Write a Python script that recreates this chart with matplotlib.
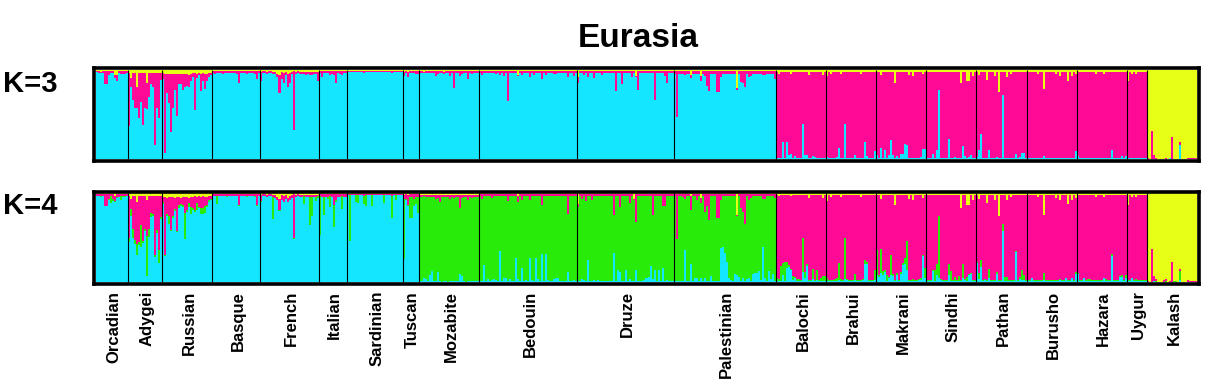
import matplotlib
matplotlib.use("Agg")
import matplotlib.pyplot as plt
import numpy as np
from matplotlib.transforms import blended_transform_factory

plt.rcParams['font.family'] = ['Liberation Sans', 'DejaVu Sans']

# populations, in plot order
pops = ['Orcadian', 'Adygei', 'Russian', 'Basque', 'French', 'Italian', 'Sardinian', 'Tuscan',
        'Mozabite', 'Bedouin', 'Druze', 'Palestinian', 'Balochi', 'Brahui', 'Makrani', 'Sindhi',
        'Pathan', 'Burusho', 'Hazara', 'Uygur', 'Kalash']

# colours of the clusters
cyan = '#14E6FF'
pink = '#FF0A96'
yellow = '#E6FF14'
green = '#28EB0A'

# membership in percent, one inner list per population (None = main cluster of that population,
# it gets whatever is left to 100)

# ---------- K=3 ----------
k3_cyan = [None, None, None, None, None, None, None, None, None, None, None, None,
           [1, 1, 1, 20, 1, 20, 5, 6, 1, 4, 1, 1, 1, 40, 5, 5, 1, 1, 4, 3, 1, 1, 1, 2, 2],
           [3, 1, 1, 1, 1, 3, 13, 2, 1, 40, 2, 1, 1, 1, 5, 1, 1, 1, 1, 19, 4, 1, 1, 1, 9],
           [5, 2, 13, 1, 10, 2, 5, 22, 5, 1, 4, 1, 6, 6, 17, 16, 2, 1, 1, 1, 1, 1, 3, 12, 12],
           [1, 1, 1, 6, 1, 10, 78, 1, 2, 1, 1, 23, 2, 1, 3, 1, 1, 1, 15, 4, 1, 3, 5, 1, 1],
           [3, 10, 28, 1, 2, 1, 11, 1, 1, 1, 3, 1, 1, 72, 2, 1, 1, 1, 1, 6, 1, 3, 7, 7, 1],
           [1, 1, 2, 1, 1, 1, 1, 1, 4, 1, 1, 1, 1, 1, 1, 1, 1, 1, 1, 2, 1, 1, 1, 1, 9],
           [4, 1, 1, 1, 2, 1, 1, 1, 1, 1, 1, 1, 1, 1, 1, 1, 1, 10, 1, 1, 1, 1, 4, 1, 4],
           [1, 1, 1, 1, 1, 1, 1, 1, 1, 1],
           [0, 0, 0, 0, 0, 0, 0, 0, 0, 0, 0, 1, 0, 0, 0, 0, 16, 0, 0, 0, 0, 0, 0, 0, 0]]

k3_pink = [[1, 2, 1, 2, 15, 15, 5, 2, 2, 3, 6, 2, 3, 3, 3, 2],
           [60, 10, 31, 40, 24, 51, 33, 58, 40, 29, 27, 13, 16, 81, 40, 51, 8],
           [7, 89, 21, 33, 65, 39, 17, 48, 12, 11, 18, 15, 14, 13, 8, 5, 42, 5, 3, 19, 9, 17, 8, 5, 3],
           [2, 3, 2, 2, 2, 3, 2, 2, 2, 2, 2, 2, 3, 14, 2, 2, 2, 3, 2, 2, 2, 3, 9, 2],
           [10, 2, 2, 2, 2, 2, 2, 3, 4, 20, 8, 11, 4, 14, 12, 3, 66, 3, 2, 2, 3, 2, 4, 2, 4, 4, 2, 3, 10],
           [2, 7, 2, 2, 2, 5, 3, 5, 13, 2, 3, 5, 2, 2],
           [1, 1, 1, 1, 1, 1, 1, 1, 2, 1, 1, 1, 1, 1, 1, 1, 1, 1, 1, 1, 1, 1, 2, 1, 1, 1, 1, 1],
           [5, 2, 6, 2, 2, 2, 4, 4],
           [2, 2, 1, 2, 2, 2, 2, 2, 6, 4, 2, 2, 2, 2, 2, 6, 2, 19, 2, 2, 6, 4, 2, 2, 9, 2, 4, 2, 2, 2],
           [2, 5, 2, 2, 2, 2, 2, 2, 4, 2, 5, 2, 6, 2, 34, 2, 2, 2, 2, 1, 2, 5, 2, 2, 2, 7, 2, 5, 2, 2,
            2, 9, 2, 5, 2, 2, 2, 4, 4, 2, 2, 2, 2, 2, 7, 2, 2, 6, 2],
           [6, 2, 2, 5, 2, 7, 2, 2, 8, 2, 2, 2, 5, 2, 2, 2, 2, 2, 2, 22, 2, 2, 15, 2, 2, 2, 2, 7, 2, 1,
            21, 2, 2, 2, 2, 2, 2, 2, 32, 2, 2, 2, 2, 6, 13, 2, 2, 2],
           [3, 52, 3, 3, 3, 5, 3, 3, 3, 3, 3, 4, 3, 5, 3, 6, 17, 23, 3, 3, 3, 24, 24, 7, 3, 3, 3, 3, 3, 3,
            3, 2, 3, 12, 13, 18, 3, 7, 6, 3, 3, 3, 3, 3, 5, 5, 3, 3, 3, 3, 9],
           None, None, None, None, None, None, None, None,
           [1, 0, 32, 5, 2, 0, 0, 0, 0, 2, 0, 1, 25, 0, 0, 0, 3, 0, 0, 0, 1, 1, 1, 1, 1]]

k3_yellow = [[1, 1, 2, 1, 1, 1, 1, 1, 1, 6, 6, 1, 1, 1, 1, 1],
             [3, 9, 3, 3, 19, 3, 3, 3, 3, 15, 3, 3, 3, 3, 3, 3, 3],
             [3, 4, 5, 4, 4, 4, 5, 4, 4, 5, 4, 4, 4, 6, 4, 3, 3, 4, 3, 4, 3, 4, 4, 3, 3],
             [1, 1, 1, 1, 1, 1, 1, 1, 1, 1, 1, 1, 1, 1, 1, 1, 1, 1, 1, 1, 1, 1, 1, 1],
             [2, 1, 1, 2, 1, 1, 2, 2, 4, 6, 2, 3, 2, 5, 3, 2, 1, 2, 1, 2, 2, 2, 2, 2, 2, 2, 2, 2, 2],
             [1, 1, 1, 1, 1, 1, 1, 1, 1, 1, 1, 1, 1, 1],
             [1, 1, 1, 1, 1, 1, 1, 1, 1, 1, 1, 1, 1, 1, 1, 1, 1, 1, 1, 1, 1, 1, 1, 1, 1, 1, 1, 1],
             [2, 1, 2, 1, 1, 1, 1, 1],
             [1, 1, 2, 1, 1, 1, 1, 1, 1, 1, 1, 1, 2, 1, 1, 1, 1, 1, 1, 1, 1, 1, 1, 1, 1, 1, 1, 1, 1, 1],
             [1, 1, 1, 1, 1, 1, 1, 1, 1, 1, 1, 1, 1, 1, 1, 1, 1, 1, 1, 6, 1, 1, 1, 1, 1, 1, 1, 1, 1, 1,
              1, 1, 1, 1, 1, 1, 1, 1, 1, 1, 1, 1, 1, 1, 1, 1, 1, 1, 1],
             [8, 1, 1, 1, 1, 1, 1, 1, 1, 1, 1, 1, 1, 1, 1, 1, 1, 1, 1, 1, 1, 1, 1, 1, 1, 1, 1, 1, 1, 7,
              1, 1, 1, 1, 1, 1, 1, 1, 1, 1, 1, 1, 1, 1, 1, 1, 1, 1],
             [1, 1, 1, 1, 1, 1, 1, 1, 6, 1, 1, 1, 1, 7, 1, 1, 1, 1, 1, 1, 1, 1, 1, 1, 1, 1, 1, 1, 1, 1,
              1, 20, 1, 1, 1, 1, 1, 1, 1, 1, 1, 1, 1, 1, 1, 1, 1, 1, 1, 1, 1],
             [2, 5, 2, 2, 2, 2, 2, 5, 2, 2, 2, 2, 2, 2, 2, 2, 6, 2, 2, 2, 2, 2, 2, 6, 2],
             [7, 2, 4, 2, 2, 2, 2, 4, 2, 2, 2, 2, 2, 2, 2, 2, 2, 4, 2, 2, 2, 2, 2, 2, 2],
             [2, 2, 6, 2, 2, 2, 2, 2, 2, 14, 2, 2, 2, 2, 2, 2, 6, 2, 7, 2, 2, 2, 2, 5, 2],
             [2, 2, 2, 2, 2, 2, 2, 2, 2, 2, 2, 2, 2, 2, 2, 2, 2, 15, 2, 2, 12, 12, 2, 7, 2],
             [2, 6, 2, 2, 2, 11, 2, 2, 2, 7, 2, 25, 2, 2, 2, 8, 2, 4, 2, 2, 2, 2, 2, 2, 2],
             [2, 2, 2, 2, 2, 4, 2, 2, 21, 2, 2, 2, 2, 2, 5, 2, 7, 2, 2, 2, 12, 2, 7, 2, 5],
             [2, 2, 2, 2, 2, 2, 2, 2, 2, 4, 2, 2, 2, 4, 2, 2, 2, 2, 2, 2, 2, 2, 2, 2, 2],
             [12, 2, 4, 2, 4, 2, 2, 2, 2, 2],
             None]

# ---------- K=4 ----------
k4_cyan = [None, None, None, None, None, None, None, None,
           [1, 1, 5, 3, 1, 8, 12, 1, 1, 11, 1, 0, 1, 1, 0, 1, 1, 1, 1, 1, 9, 7, 1, 0, 1, 1, 1, 1, 1, 1],
           [1, 1, 19, 1, 3, 1, 2, 3, 2, 1, 35, 1, 4, 5, 1, 3, 1, 1, 27, 3, 1, 16, 1, 2, 1, 27, 2, 1, 27, 3,
            1, 32, 1, 32, 2, 1, 1, 3, 5, 4, 1, 1, 1, 1, 11, 1, 1, 2, 1],
           [1, 1, 3, 2, 1, 25, 1, 1, 2, 1, 2, 1, 1, 1, 1, 1, 1, 1, 33, 1, 13, 11, 1, 1, 14, 1, 3, 1, 1, 14,
            1, 1, 1, 2, 4, 6, 18, 3, 13, 1, 13, 1, 16, 1, 2, 1, 1, 1],
           [1, 1, 1, 1, 1, 36, 1, 1, 20, 1, 5, 5, 1, 5, 1, 5, 1, 1, 7, 1, 1, 1, 1, 38, 40, 33, 23, 5, 2, 1,
            9, 8, 6, 1, 5, 1, 3, 5, 1, 9, 10, 10, 12, 2, 39, 5, 1, 12, 3, 9, 1],
           [1, 1, 1, 8, 1, 16, 17, 13, 2, 5, 1, 1, 1, 11, 5, 18, 1, 1, 3, 1, 2, 1, 1, 1, 1],
           [1, 1, 1, 1, 1, 1, 2, 1, 1, 3, 2, 1, 1, 1, 2, 1, 1, 1, 2, 20, 20, 1, 1, 1, 2],
           [8, 6, 10, 8, 11, 1, 4, 8, 7, 1, 8, 1, 9, 19, 20, 13, 1, 1, 1, 1, 1, 2, 2, 29, 4],
           [1, 1, 1, 12, 1, 8, 4, 2, 1, 1, 1, 8, 1, 1, 1, 1, 1, 1, 4, 2, 1, 8, 9, 1, 1],
           [22, 3, 17, 1, 2, 1, 5, 1, 1, 1, 9, 1, 1, 58, 1, 1, 1, 1, 1, 34, 1, 3, 2, 2, 1],
           [1, 1, 4, 1, 1, 1, 1, 1, 2, 1, 1, 1, 1, 1, 1, 1, 2, 1, 1, 4, 1, 1, 4, 1, 9],
           [9, 1, 1, 4, 1, 1, 1, 1, 1, 1, 1, 1, 1, 4, 1, 1, 1, 29, 1, 1, 1, 6, 6, 1, 4],
           [1, 1, 4, 1, 1, 1, 1, 1, 1, 1],
           [0, 0, 0, 1, 0, 0, 0, 0, 0, 0, 0, 0, 0, 0, 0, 0, 2, 0, 0, 0, 0, 0, 0, 0, 0]]

k4_green = [[0, 0, 1, 0, 0, 0, 1, 8, 3, 1, 1, 0, 4, 1, 1, 0],
            [5, 8, 10, 4, 13, 3, 24, 2, 2, 45, 9, 5, 2, 2, 4, 14, 2],
            [2, 1, 2, 8, 1, 2, 2, 2, 3, 2, 2, 30, 2, 4, 8, 2, 2, 8, 2, 7, 7, 8, 2, 2, 2],
            [0, 0, 9, 0, 0, 0, 0, 1, 0, 0, 0, 0, 0, 1, 0, 0, 0, 1, 0, 0, 0, 1, 1, 0],
            [1, 0, 0, 0, 0, 0, 25, 0, 1, 1, 1, 0, 0, 0, 0, 0, 1, 0, 0, 0, 0, 9, 0, 0, 32, 22, 0, 5, 2],
            [44, 0, 20, 0, 2, 12, 0, 25, 3, 0, 0, 15, 0, 0],
            [0, 52, 0, 0, 8, 9, 0, 0, 9, 12, 0, 0, 12, 0, 0, 0, 0, 0, 9, 0, 0, 0, 25, 0, 6, 0, 0, 0],
            [68, 1, 1, 24, 24, 8, 8, 18],
            None, None, None, None,
            [3, 2, 17, 14, 22, 7, 2, 2, 5, 1, 2, 2, 1, 39, 6, 2, 1, 1, 12, 1, 12, 1, 3, 6, 6],
            [3, 1, 1, 1, 2, 4, 20, 2, 1, 47, 1, 1, 1, 1, 7, 1, 1, 1, 1, 5, 3, 1, 1, 1, 12],
            [28, 2, 27, 4, 3, 7, 2, 22, 2, 1, 2, 1, 2, 2, 7, 33, 1, 1, 2, 1, 1, 1, 2, 1, 12],
            [1, 1, 1, 2, 12, 12, 70, 1, 1, 1, 1, 12, 11, 1, 5, 1, 6, 1, 16, 1, 5, 1, 1, 1, 1],
            [1, 7, 8, 1, 1, 1, 10, 1, 1, 1, 2, 1, 1, 8, 5, 5, 1, 1, 1, 1, 1, 3, 11, 6, 1],
            [1, 1, 1, 1, 1, 1, 1, 1, 8, 1, 1, 1, 1, 1, 1, 1, 1, 1, 1, 1, 1, 1, 1, 1, 2],
            [1, 1, 1, 1, 1, 2, 2, 1, 1, 1, 1, 1, 1, 1, 2, 1, 1, 3, 1, 1, 1, 1, 2, 1, 4],
            [1, 1, 1, 1, 2, 1, 1, 1, 1, 1],
            [0, 0, 0, 0, 1, 0, 0, 0, 0, 1, 0, 0, 0, 1, 1, 0, 10, 0, 0, 0, 0, 0, 0, 0, 0]]

k4_pink = [[2, 2, 2, 2, 13, 13, 5, 2, 5, 6, 3, 3, 2, 2, 2, 2],
           [47, 12, 37, 50, 47, 52, 33, 51, 37, 40, 37, 19, 20, 67, 38, 61, 24],
           [6, 66, 18, 22, 37, 22, 13, 38, 9, 7, 9, 18, 15, 6, 11, 13, 16, 7, 12, 12, 13, 10, 9, 5, 3],
           [2, 2, 2, 2, 2, 2, 2, 2, 2, 2, 2, 2, 2, 12, 2, 2, 2, 2, 2, 2, 2, 2, 12, 2],
           [7, 2, 2, 2, 2, 2, 2, 3, 3, 13, 5, 7, 4, 5, 5, 3, 49, 2, 2, 2, 2, 1, 2, 2, 2, 2, 2, 2, 1],
           [2, 3, 3, 3, 3, 2, 3, 12, 6, 3, 3, 2, 3, 3],
           [1, 1, 1, 1, 1, 1, 1, 1, 2, 1, 1, 1, 1, 1, 1, 1, 1, 1, 1, 1, 1, 1, 2, 1, 1, 1, 1, 1],
           [4, 5, 11, 3, 3, 5, 3, 3],
           [2, 2, 1, 2, 2, 2, 2, 2, 4, 3, 8, 2, 2, 2, 2, 4, 2, 3, 2, 2, 15, 3, 2, 2, 5, 2, 3, 2, 2, 2],
           [2, 5, 2, 2, 2, 2, 4, 2, 2, 2, 2, 2, 2, 2, 8, 2, 2, 2, 2, 7, 2, 6, 2, 2, 2, 7, 2, 2, 2, 2,
            2, 12, 2, 2, 2, 2, 2, 2, 2, 2, 2, 2, 2, 2, 22, 2, 2, 2, 2],
           [3, 2, 5, 2, 8, 2, 2, 6, 2, 2, 2, 2, 2, 2, 2, 2, 2, 2, 23, 2, 2, 14, 2, 2, 2, 2, 10, 2, 2, 31,
            2, 2, 2, 2, 2, 2, 2, 23, 2, 2, 2, 2, 13, 13, 2, 2, 2, 2],
           [2, 50, 2, 2, 3, 5, 2, 2, 16, 2, 2, 6, 2, 6, 2, 20, 13, 29, 2, 2, 2, 27, 27, 6, 2, 2, 2, 2, 2, 2,
            2, 2, 2, 15, 20, 33, 2, 6, 4, 2, 2, 2, 2, 2, 5, 5, 2, 2, 2, 2, 4],
           None, None, None, None, None, None, None, None,
           [1, 0, 37, 6, 2, 0, 0, 0, 2, 2, 0, 1, 23, 0, 0, 0, 3, 0, 0, 0, 2, 1, 1, 1, 1]]

k4_yellow = [[1, 1, 1, 1, 1, 1, 1, 1, 1, 3, 1, 1, 1, 1, 1, 1],
             [3, 6, 3, 3, 10, 3, 3, 3, 3, 8, 3, 3, 3, 3, 3, 3, 3],
             [4, 4, 5, 4, 4, 4, 5, 4, 4, 5, 4, 4, 4, 5, 4, 4, 3, 4, 3, 4, 3, 4, 4, 3, 3],
             [1, 1, 1, 1, 1, 1, 1, 1, 1, 1, 1, 1, 1, 1, 1, 1, 1, 1, 1, 1, 1, 1, 1, 1],
             [2, 1, 1, 2, 1, 1, 2, 2, 4, 6, 2, 3, 2, 5, 3, 2, 1, 2, 1, 2, 2, 2, 2, 2, 2, 2, 2, 2, 2],
             [1, 1, 1, 1, 1, 1, 1, 1, 1, 1, 1, 1, 1, 1],
             [1, 1, 1, 1, 1, 1, 1, 1, 1, 1, 1, 1, 1, 1, 1, 1, 1, 1, 1, 1, 1, 1, 1, 1, 1, 1, 1, 1],
             [2, 1, 2, 1, 1, 1, 1, 1],
             [2, 2, 2, 2, 2, 2, 2, 2, 2, 2, 2, 2, 2, 2, 2, 2, 2, 2, 2, 2, 2, 2, 2, 2, 2, 2, 2, 2, 2, 2],
             [1, 1, 1, 1, 1, 1, 1, 1, 1, 1, 1, 1, 1, 1, 1, 1, 1, 1, 1, 3, 1, 1, 1, 1, 1, 1, 1, 1, 1, 1,
              1, 1, 1, 1, 1, 1, 1, 1, 1, 1, 1, 1, 1, 1, 1, 1, 1, 1, 1],
             [12, 1, 1, 1, 1, 1, 1, 1, 1, 1, 1, 1, 1, 1, 1, 1, 1, 1, 1, 1, 1, 1, 1, 1, 1, 1, 1, 1, 6, 1,
              1, 1, 1, 1, 1, 1, 1, 1, 1, 1, 1, 1, 1, 1, 1, 1, 1, 1],
             [1, 1, 1, 1, 1, 1, 1, 1, 3, 1, 1, 1, 1, 5, 1, 1, 1, 1, 1, 1, 1, 1, 1, 1, 1, 1, 1, 1, 1, 1,
              1, 24, 1, 1, 1, 1, 1, 1, 1, 1, 1, 1, 1, 1, 1, 1, 1, 1, 1, 1, 1],
             [2, 3, 2, 2, 2, 2, 2, 3, 2, 2, 2, 2, 2, 2, 2, 2, 5, 2, 2, 2, 2, 2, 2, 5, 2],
             [9, 2, 4, 2, 2, 2, 2, 4, 2, 2, 2, 2, 2, 2, 2, 2, 2, 4, 2, 2, 2, 2, 2, 2, 2],
             [2, 2, 6, 2, 2, 2, 2, 2, 2, 13, 2, 2, 2, 2, 2, 2, 6, 2, 7, 2, 2, 2, 2, 5, 2],
             [2, 2, 2, 2, 2, 2, 2, 2, 2, 2, 2, 2, 2, 2, 2, 2, 2, 16, 2, 2, 13, 13, 2, 7, 2],
             [2, 6, 2, 2, 2, 11, 2, 2, 2, 7, 2, 25, 2, 2, 2, 8, 2, 4, 2, 2, 2, 2, 2, 2, 2],
             [2, 2, 2, 2, 2, 4, 2, 2, 24, 2, 2, 2, 2, 2, 5, 2, 7, 2, 2, 2, 12, 2, 7, 2, 5],
             [2, 2, 2, 2, 2, 2, 2, 2, 2, 4, 2, 2, 2, 4, 2, 2, 2, 2, 2, 2, 2, 2, 2, 2, 2],
             [13, 2, 4, 2, 4, 2, 2, 2, 2, 2],
             None]


def buildQ(clusters):
    # stack the per population lists into one (cluster x individual) array, main cluster = rest
    rows = [[] for _ in clusters]
    sizes = []
    for p in range(len(pops)):
        known = [c[p] for c in clusters if c[p] is not None]
        n = len(known[0])
        for k in known:
            assert len(k) == n, pops[p]
        sizes.append(n)
        rest = [100 - sum(v) for v in zip(*known)]
        for i, c in enumerate(clusters):
            rows[i].extend(rest if c[p] is None else c[p])
    return np.array(rows, dtype=float) / 100.0, sizes


q3, sizes = buildQ([k3_cyan, k3_pink, k3_yellow])
q4, sizes4 = buildQ([k4_cyan, k4_green, k4_pink, k4_yellow])
assert sizes == sizes4
nInd = sum(sizes)
bounds = np.cumsum(sizes)

W, H = 1215, 389
fig = plt.figure(figsize=(W / 100, H / 100), dpi=100)


def px(left, top, right, bottom):
    # pixel box -> figure fraction rect
    return [left / W, 1 - bottom / H, (right - left) / W, (bottom - top) / H]


def drawPanel(rect, q, colors, padY):
    ax = fig.add_axes(rect)
    x = np.arange(nInd)
    bottom = np.zeros(nInd)
    for row, col in zip(q, colors):
        ax.bar(x, row, width=1.0, bottom=bottom, align='edge', color=col,
               linewidth=0, antialiased=False)
        bottom += row
    ax.vlines(bounds[:-1], 0, 1, colors='black', linewidth=0.8)
    padX = nInd * 2.0 / 1101
    ax.set_xlim(-padX, nInd + padX)
    ax.set_ylim(-padY, 1 + padY)
    ax.set_xticks([])
    ax.set_yticks([])
    for s in ax.spines.values():
        s.set_linewidth(2.6)
        s.set_color('black')
    return ax


ax1 = drawPanel(px(94, 68.4, 1199, 161), q3, [cyan, pink, yellow], 1.6 / 89)
ax2 = drawPanel(px(94, 191.6, 1199, 283.8), q4, [cyan, green, pink, yellow], 1.8 / 88)

# titles and labels
fig.text(638 / W, 1 - 46.7 / H, 'Eurasia', ha='center', va='baseline', fontsize=24, fontweight='bold')
fig.text(3 / W, 1 - 92 / H, 'K=3', ha='left', va='baseline', fontsize=21, fontweight='bold')
fig.text(3 / W, 1 - 214 / H, 'K=4', ha='left', va='baseline', fontsize=21, fontweight='bold')

trans = blended_transform_factory(ax2.transData, fig.transFigure)
starts = bounds - np.array(sizes)
for name, s, n in zip(pops, starts, sizes):
    ax2.text(s + n / 2.0 + 1, 1 - 291 / H, name, rotation=90, ha='center', va='top',
             fontsize=12, fontweight='bold', transform=trans)

fig.savefig('out.png', dpi=100)
